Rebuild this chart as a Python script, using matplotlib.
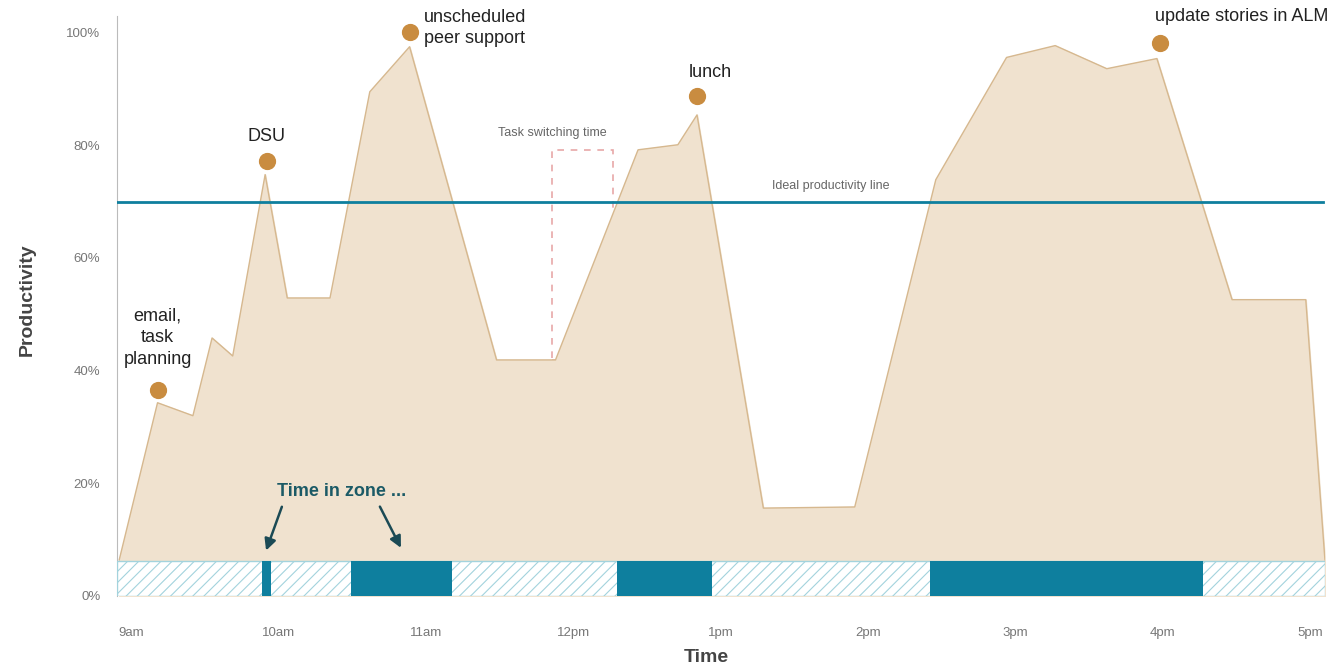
import numpy as np
import matplotlib
matplotlib.use("Agg")
from matplotlib import pyplot as plt
from matplotlib.patches import Rectangle

plt.rcParams["font.family"] = ["Liberation Sans", "DejaVu Sans"]
plt.rcParams["hatch.linewidth"] = 0.8

# productivity curve (time in hours, productivity in %)
t = [8.92, 9.18, 9.42, 9.55, 9.69, 9.91, 10.06, 10.35, 10.62, 10.89,
     11.48, 11.88, 12.44, 12.71, 12.84, 13.29, 13.91, 14.46, 14.94,
     15.27, 15.62, 15.96, 16.47, 16.97, 17.10]
prod = [6.4, 34.3, 32.0, 45.8, 42.6, 74.8, 52.9, 52.9, 89.5, 97.5,
        41.9, 41.9, 79.2, 80.1, 85.4, 15.6, 15.8, 73.9, 95.6,
        97.7, 93.6, 95.4, 52.6, 52.6, 6.4]

# events (dots + labels)
event_t = [9.18, 9.92, 10.89, 12.84, 15.98]
event_y = [36.6, 77.3, 100.2, 88.8, 98.2]

# time in zone segments (start, end)
zone_start = [9.89, 10.49, 12.30, 14.42]
zone_end = [9.95, 11.18, 12.94, 16.27]

ideal = 70
xticks = [9, 10, 11, 12, 13, 14, 15, 16, 17]
xlabels = ["9am", "10am", "11am", "12pm", "1pm", "2pm", "3pm", "4pm", "5pm"]
yticks = [0, 20, 40, 60, 80, 100]

fill_c = "#f0e2cf"
edge_c = "#d6b88f"
teal = "#0e7f9e"
dot_c = "#c98c40"
grey = "#777777"

fig = plt.figure(figsize=(13.34, 6.70), dpi=100)
ax = fig.add_axes([0.0877, 0.1105, 0.9055, 0.866])
x0, x1 = 8.905, 17.1
ax.set_xlim(x0, x1)
ax.set_ylim(0, 103)

# task switching box (behind the area)
ax.add_patch(Rectangle((11.856, 41.9), 12.27 - 11.856, 79.2 - 41.9, fill=False,
                       edgecolor="#e8a8a8", linestyle=(0, (4, 4)), linewidth=1.2, zorder=1))
ax.text(11.86, 82.2, "Task switching time", fontsize=9, color="#666666",
        ha="center", va="center")

ax.fill_between(t, 0, prod, color=fill_c, zorder=2)
ax.plot(t, prod, color=edge_c, linewidth=1, zorder=2)

ax.axhline(ideal, color=teal, linewidth=2, zorder=3, xmax=0.998)
ax.text(13.75, 72.7, "Ideal productivity line", fontsize=9, color="#666666",
        ha="center", va="center")

# zone bar
bar_h = 6.2
ax.add_patch(Rectangle((x0, 0), x1 - x0, bar_h, facecolor="white", edgecolor="#a3d3dd",
                       hatch="///", linewidth=1, zorder=4))
for s, e in zip(zone_start, zone_end):
    ax.add_patch(Rectangle((s, 0), e - s, bar_h, facecolor=teal, edgecolor=teal,
                           linewidth=0, zorder=5))

ax.scatter(event_t, event_y, s=130, color=dot_c, zorder=6, clip_on=False)

ax.text(9.18, 45.8, "email,\ntask\nplanning", fontsize=13, ha="center", va="center",
        color="#222222", linespacing=1.35)
ax.text(9.92, 81.5, "DSU", fontsize=13, ha="center", va="center", color="#222222")
ax.text(10.99, 100.8, "unscheduled\npeer support", fontsize=13, ha="left", va="center",
        color="#222222", linespacing=1.3, clip_on=False)
ax.text(12.93, 93.0, "lunch", fontsize=13, ha="center", va="center", color="#222222")
ax.text(15.945, 102.8, "update stories in ALM", fontsize=13, ha="left", va="center",
        color="#222222", clip_on=False)

ax.text(10.43, 18.5, "Time in zone ...", fontsize=13, fontweight="bold", ha="center",
        va="center", color="#1b5a66", zorder=7)
ax.annotate("", xy=(9.91, 7.6), xytext=(10.03, 16.3),
            arrowprops=dict(arrowstyle="-|>", color="#1b4a55", lw=1.8, mutation_scale=17), zorder=7)
ax.annotate("", xy=(10.84, 8.1), xytext=(10.68, 16.3),
            arrowprops=dict(arrowstyle="-|>", color="#1b4a55", lw=1.8, mutation_scale=17), zorder=7)

ax.set_xticks(xticks)
ax.set_xticklabels(xlabels, fontsize=9.5, color=grey)
ax.set_yticks(yticks)
ax.set_yticklabels([f"{v}%" for v in yticks], fontsize=9.5, color=grey)
ax.tick_params(length=0, pad=22, axis="x")
ax.tick_params(length=0, pad=12, axis="y")

for side in ["top", "right", "bottom"]:
    ax.spines[side].set_visible(False)
ax.spines["left"].set_color("#bbbbbb")

ax.set_xlabel("Time", fontsize=14, fontweight="bold", color="#444444")
ax.set_ylabel("Productivity", fontsize=14, fontweight="bold", color="#444444")
ax.xaxis.set_label_coords(0.4876, -0.092)
ax.yaxis.set_label_coords(-0.067, 0.51)

fig.savefig("out.png", dpi=100)
